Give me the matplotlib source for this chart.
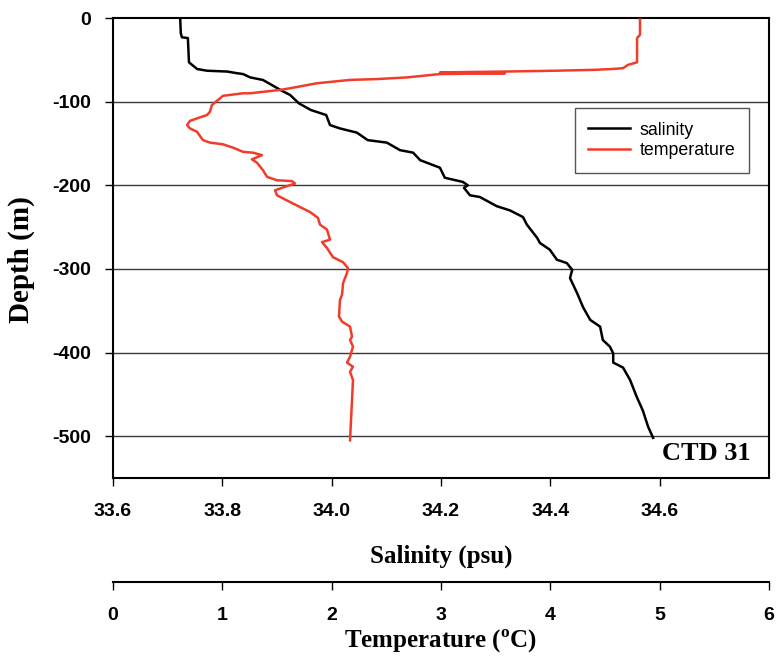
import matplotlib
matplotlib.use('Agg')
import matplotlib.pyplot as plt

plt.rcParams['mathtext.fontset'] = 'custom'
plt.rcParams['mathtext.rm'] = 'Liberation Serif:bold'

# salinity profile (psu) vs depth (m)
sal_depth = [-1, -18, -23, -24, -53, -61, -63, -64, -66, -67, -71, -74, -81, -87, -92,
             -102, -110, -116, -128, -132, -137, -146, -149, -158, -161, -170, -179,
             -191, -196, -200, -203, -212, -214, -225, -230, -238, -247, -263, -269,
             -277, -289, -293, -301, -311, -329, -346, -361, -369, -385, -393, -401,
             -412, -418, -433, -453, -469, -489, -502]
salinity = [33.723, 33.724, 33.726, 33.737, 33.739, 33.754, 33.772, 33.809, 33.827,
            33.838, 33.851, 33.874, 33.893, 33.909, 33.924, 33.940, 33.962, 33.990,
            33.997, 34.015, 34.046, 34.066, 34.101, 34.125, 34.149, 34.162, 34.198,
            34.207, 34.240, 34.249, 34.242, 34.253, 34.271, 34.302, 34.326, 34.350,
            34.357, 34.376, 34.381, 34.399, 34.412, 34.430, 34.440, 34.436, 34.449,
            34.460, 34.473, 34.491, 34.496, 34.509, 34.515, 34.515, 34.533, 34.546,
            34.558, 34.569, 34.579, 34.588]

# temperature profile (deg C) vs depth (m)
tem_depth = [-2, -20, -24, -53, -56, -60, -61, -62, -63, -64, -65, -66, -67, -71, -73,
             -74, -78, -84, -86, -90, -90, -93, -98, -104, -112, -116, -120, -123,
             -128, -132, -136, -146, -149, -151, -155, -160, -161, -164, -169, -173,
             -182, -190, -194, -195, -198, -201, -206, -212, -220, -226, -232, -239,
             -247, -253, -265, -268, -275, -286, -292, -299, -305, -317, -331, -337,
             -357, -363, -369, -381, -385, -393, -405, -412, -417, -423, -433, -505]
temperature = [4.820, 4.820, 4.793, 4.793, 4.710, 4.665, 4.564, 4.390, 4.043, 3.585,
               2.991, 3.585, 2.991, 2.689, 2.415, 2.168, 1.866, 1.619, 1.527, 1.253,
               1.189, 1.006, 0.960, 0.905, 0.887, 0.860, 0.768, 0.704, 0.677, 0.704,
               0.768, 0.823, 0.887, 1.006, 1.098, 1.189, 1.281, 1.363, 1.271, 1.317,
               1.372, 1.409, 1.500, 1.637, 1.665, 1.591, 1.482, 1.500, 1.619, 1.710,
               1.802, 1.875, 1.893, 1.957, 1.985, 1.912, 1.957, 2.012, 2.104, 2.149,
               2.140, 2.104, 2.095, 2.076, 2.067, 2.095, 2.168, 2.186, 2.168, 2.195,
               2.168, 2.140, 2.195, 2.168, 2.195, 2.168]

sal_ticks = [33.6, 33.8, 34.0, 34.2, 34.4, 34.6]
tem_ticks = [0, 1, 2, 3, 4, 5, 6]
depth_ticks = [0, -100, -200, -300, -400, -500]

red = '#f23c2a'
tick_font = {'family': 'Liberation Sans', 'weight': 'bold', 'size': 14}
label_font = {'family': 'Liberation Serif', 'weight': 'bold', 'size': 18}

fig = plt.figure(figsize=(7.76, 6.58), dpi=100)
ax = fig.add_axes([0.1456, 0.2736, 0.8454, 0.699])

ax.plot(salinity, sal_depth, color='black', lw=1.8, label='salinity')

ax.set_xlim(33.6, 34.8)
ax.set_ylim(-550, 0)
ax.set_xticks(sal_ticks)
ax.set_xticklabels(['%.1f' % v for v in sal_ticks], fontdict=tick_font)
ax.set_yticks(depth_ticks)
ax.set_yticklabels([str(v) for v in depth_ticks], fontdict=tick_font)
ax.tick_params(axis='x', direction='out', length=6, width=1, pad=12)
ax.tick_params(axis='y', direction='out', length=6, width=1, pad=10)

for d in depth_ticks[1:]:
    ax.axhline(d, color='#3a3a3a', lw=1, zorder=0)

for s in ax.spines.values():
    s.set_linewidth(1.5)
    s.set_color('black')

ax.set_xlabel('Salinity (psu)', fontdict=label_font)
ax.xaxis.set_label_coords(0.5, -0.145)
ax.set_ylabel('Depth (m)', family='Liberation Serif', weight='bold', size=21)
ax.yaxis.set_label_coords(-0.119, 0.474)

# temperature axis below the salinity axis
ax2 = ax.twiny()
ax2.plot(temperature, tem_depth, color=red, lw=1.8, label='temperature')
ax2.set_xlim(0, 6)
ax2.xaxis.set_ticks_position('bottom')
ax2.xaxis.set_label_position('bottom')
ax2.spines['bottom'].set_position(('outward', 75))
for k in ['top', 'left', 'right']:
    ax2.spines[k].set_visible(False)
ax2.spines['bottom'].set_linewidth(1.5)
ax2.set_xticks(tem_ticks)
ax2.set_xticklabels([str(v) for v in tem_ticks], fontdict=tick_font)
ax2.tick_params(axis='x', direction='out', length=6, width=1, pad=12)
ax2.set_xlabel('Temperature ($^\\mathrm{o}$C)', fontdict=label_font)
ax2.xaxis.set_label_coords(0.5, -0.326)

h1, l1 = ax.get_legend_handles_labels()
h2, l2 = ax2.get_legend_handles_labels()
leg = ax2.legend(h1 + h2, l1 + l2, loc='upper right', bbox_to_anchor=(0.9695, 0.804),
                 fancybox=False, framealpha=1, edgecolor='#555555', borderaxespad=0,
                 prop={'family': 'Liberation Sans', 'size': 12.8}, handlelength=2.35,
                 handletextpad=0.55, borderpad=0.75, labelspacing=0.22)
leg.get_frame().set_linewidth(1)

ax.text(34.605, -521, 'CTD 31', family='Liberation Serif', weight='bold', size=19,
        va='center', ha='left')

fig.savefig('out.png', dpi=100)
